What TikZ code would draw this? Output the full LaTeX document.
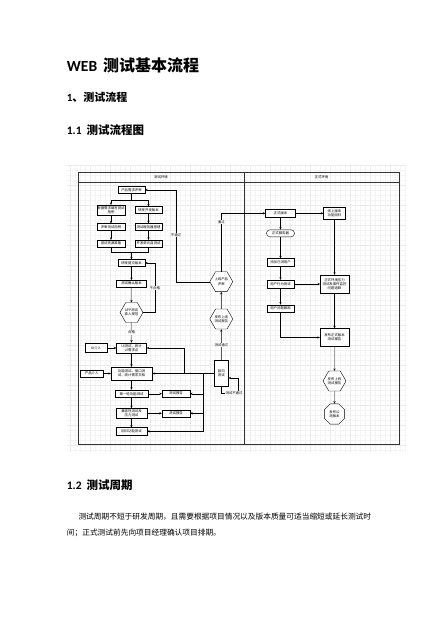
\documentclass[tikz,border=0pt]{standalone}
\usepackage{fontspec}
\setmainfont{Carlito}
\newfontfamily\cjk{Noto Sans CJK SC}
\usetikzlibrary{arrows.meta,shapes.geometric,calc}
\tikzset{
  fc/.style={font=\cjk\fontsize{3.4}{4.1}\selectfont},
  box/.style={fc, draw=black, line width=0.4pt, fill=white, align=center, inner sep=0pt, minimum height=7pt},
  hexa/.style={fc, draw=black, line width=0.4pt, fill=white, align=center, inner sep=0pt, regular polygon, regular polygon sides=6, minimum size=23pt},
  octa/.style={fc, draw=black, line width=0.4pt, fill=white, align=center, inner sep=0pt, regular polygon, regular polygon sides=8, minimum size=22pt},
  arr/.style={draw=black, line width=0.4pt, -{Stealth[length=2.4pt,width=2.2pt]}},
  ln/.style={draw=black, line width=0.4pt},
  lbl/.style={fc, fill=white, inner sep=0.4pt},
  hd/.style={inner sep=0pt, anchor=base west},
}
\begin{document}
\begin{tikzpicture}[x=1pt,y=-1pt]
\fill[white] (0,0) rectangle (440,620);
\useasboundingbox (0,0) rectangle (440,620);
% grid
\foreach \gx in {70,75,...,405} {\draw[gray!9, line width=0.25pt] (\gx,165) -- (\gx,452);}
\foreach \gy in {165,170,...,450} {\draw[gray!9, line width=0.25pt] (67,\gy) -- (406,\gy);}
\foreach \gx in {70,90,...,405} {\draw[gray!16, line width=0.25pt] (\gx,165) -- (\gx,452);}
\foreach \gy in {165,185,...,450} {\draw[gray!16, line width=0.25pt] (67,\gy) -- (406,\gy);}
% frame
\draw[black!80, line width=0.6pt] (78,172) rectangle (399,444);
\draw[black!80, line width=0.5pt] (78,182.5) -- (399,182.5);
\draw[black!80, line width=0.5pt] (244,172) -- (244,444);
\node[fc] (hl) at (161,177.3) {测试环境};
\node[fc] (hr) at (321.5,177.3) {正式环境};

% headings
\node[hd] (t0) at (66.7,71.2) {\fontsize{15.5}{18}\selectfont\bfseries WEB\hspace{6pt}{\cjk\bfseries\fontsize{16}{18}\selectfont 测试基本流程}};
\node[hd] (t1) at (66.7,101.7) {\fontsize{11}{13}\selectfont\bfseries 1{\cjk\bfseries 、测试流程}};
\node[hd] (t2) at (66.7,134.3) {\fontsize{11.5}{13}\selectfont\bfseries 1.1\hspace{5pt}{\cjk\bfseries 测试流程图}};
\node[hd] (t3) at (66.7,489.3) {\fontsize{11.5}{13}\selectfont\bfseries 1.2\hspace{5pt}{\cjk\bfseries 测试周期}};
\node[inner sep=0pt, anchor=base west, font=\cjk\fontsize{7.7}{9}\selectfont] (p1) at (78.3,519) {测试周期不短于研发周期，且需要根据项目情况以及版本质量可适当缩短或延长测试时};
\node[inner sep=0pt, anchor=base west, font=\cjk\fontsize{7.7}{9}\selectfont] (p2) at (66.7,535.8) {间；正式测试前先向项目经理确认项目排期。};

% left column
\node[box, minimum width=27pt] (n1) at (131.5,190) {产品需求评审};
\node[box, minimum width=28.5pt, minimum height=10pt] (n2) at (111,210) {根据需求编写测试\\用例};
\node[box, minimum width=27pt] (n3) at (148.5,210) {研发开发版本};
\node[box, minimum width=28pt] (n4) at (111,227) {评审测试用例};
\node[box, minimum width=27pt] (n5) at (148.5,227) {测试服务器搭建};
\node[box, minimum width=28pt] (n6) at (111,243.5) {测试资源准备};
\node[box, minimum width=27pt] (n7) at (148.5,243.5) {开发单元自测试};
\node[box, minimum width=27pt] (n8) at (131.5,263) {研发提交版本};
\node[box, minimum width=30pt] (n9) at (131.5,283.7) {测试确认版本};
\node[hexa] (h1) at (131.5,312.5) {APP测试\\准入规范};
\node[box, minimum width=30pt, minimum height=10.5pt] (n10) at (131.5,348) {UI测试、统计\\UI需求点};
\node[box, minimum width=21.5pt, minimum height=9pt] (n11) at (96,348) {UI介入};
\node[box, minimum width=41pt, minimum height=13pt] (n12) at (131.5,373.5) {功能测试、接口测\\试、统计需求文档};
\node[box, minimum width=23pt, minimum height=7.5pt] (n16) at (91.7,373.5) {产品介入};
\node[box, minimum width=33pt, minimum height=7.5pt] (n13) at (131.5,393.7) {第一轮功能测试};
\node[box, minimum width=28pt] (rep1) at (176,393.7) {测试报告};
\node[box, minimum width=31pt, minimum height=10pt] (n14) at (131.5,413.3) {兼容性测试及\\压力测试};
\node[box, minimum width=28pt] (rep2) at (176,413.3) {测试报告};
\node[box, minimum width=31pt, minimum height=7.5pt] (n15) at (131.5,431.3) {回归功能测试};

% middle
\node[hexa] (m1) at (221.3,281.7) {上线产品\\评审};
\node[hexa] (m2) at (221.3,319) {发布上线\\测试报告};
\node[box, minimum width=14pt, minimum height=26pt] (m3) at (221.3,373.5) {回归\\测试};

% right column
\node[box, minimum width=30pt, minimum height=7.5pt] (r1) at (280.5,213.3) {正式版本};
\node[box, minimum width=22pt, minimum height=12pt] (r2) at (334.5,213.3) {线上版本\\功能回归};
\node[box, minimum width=28pt, rounded corners=3.4pt] (r3) at (280.5,233.3) {正式服务器};
\node[box, minimum width=27pt, minimum height=8pt] (r4) at (280.5,262.5) {添加已测用户};
\node[box, minimum width=27pt, minimum height=8pt] (r5) at (280.5,284) {用户行为测试};
\node[box, minimum width=28.5pt, minimum height=18pt] (r6) at (334.5,284) {正式环境压力\\测试及事件监控\\问题追踪};
\node[box, minimum width=27pt] (r7) at (280.5,308.3) {用户问题跟踪};
\node[box, minimum width=29pt, minimum height=18pt] (r8) at (334.5,337.5) {发布正式版本\\测试报告};
\node[hexa] (r9) at (334.5,381) {发布上线\\测试报告};
\node[octa] (r10) at (334.5,414) {发布公\\测版本};

% connectors left
\coordinate (s1) at (131.5,200.5);
\draw[ln] (n1.south) -- (s1);
\draw[arr] (s1) -| (n2.north);
\draw[arr] (s1) -| (n3.north);
\draw[arr] (n2) -- (n4);
\draw[arr] (n4) -- (n6);
\draw[arr] (n3) -- (n5);
\draw[arr] (n5) -- (n7);
\coordinate (s2) at (131.5,252.5);
\draw[ln] (n6.south) |- (s2);
\draw[ln] (n7.south) |- (s2);
\draw[arr] (s2) -- (n8.north);
\draw[arr] (n8) -- (n9);
\draw[arr] (n9) -- (h1);
\draw[arr] (h1) -- node[lbl] (lb1) {合格} (n10);
\draw[arr] (h1.east) -- ++(12,0) |- (n8.east);
\node[lbl] (lb2) at (154.8,288) {不合格};
\draw[arr] (n11) -- (n10);
\draw[arr] (n10) -- (n12);
\draw[arr] (n16) -- (n12);
\draw[arr] (n12) -- (n13);
\draw[arr] (n13) -- (rep1);
\draw[arr] (n13) -- (n14);
\draw[arr] (n14) -- (rep2);
\draw[arr] (n14) -- (n15);

% regression connectors
\draw[arr] (m3.west) -- (n12.east);
\coordinate (j1) at (184,373.5);
\coordinate (j2) at (203,373.5);
\draw[arr] (j1) |- (n10.east);
\draw[arr] (j2) |- (rep1.east);
\draw[arr] (j2) |- (rep2.east);
\draw[arr] (j2) |- (n15.east);
\draw[arr] (m3.south) -- ++(0,6.8) -| (238.5,378) -- (m3.east |- 0,378);
\node[lbl] (lb3) at (234,393.3) {测试不通过};
\draw[arr] (m3.north) -- node[lbl] (lb4) {测试通过} (m2.south);
\draw[arr] (m2) -- (m1);
\draw[arr] (m1.west) -| (176,190) -- (n1.east);
\node[lbl] (lb5) at (176,235) {不通过};
\draw[arr] (m1.north) |- (r1.west);
\node[lbl] (lb6) at (221.3,222) {通过};

% right connectors
\draw[arr] (r1) -- (r2);
\draw[arr] (r1) -- (r3);
\draw[arr] (r3) -- (r4);
\draw[arr] (r4) -- (r5);
\draw[arr] (r5) -- (r6);
\draw[arr] (r5) -- (r7);
\draw[arr] (r2) -- (r6);
\draw[arr] (r6) -- (r8);
\draw[arr] (r7.south) |- (r8.west);
\draw[arr] (r8) -- (r9);
\draw[arr] (r9) -- (r10);
\end{tikzpicture}
\end{document}
